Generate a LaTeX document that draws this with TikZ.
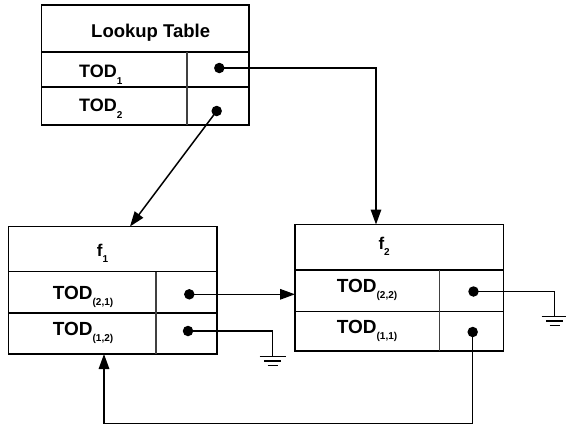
\documentclass[tikz,border=0pt]{standalone}
\usepackage{fontspec}
\setmainfont{Liberation Sans}[BoldFont={Liberation Sans Bold}]
\usetikzlibrary{arrows.meta}
\newcommand{\sbs}[1]{\raisebox{-6.5pt}{\fontsize{10}{10}\selectfont\bfseries #1}}
\begin{document}
\begin{tikzpicture}[x=1pt,y=-1pt,
 box/.style={draw, line width=1.8pt, rectangle, inner sep=0pt, outer sep=0pt},
 div/.style={line width=1.5pt},
 vdiv/.style={line width=1.2pt, black!75},
 dot/.style={circle, fill, inner sep=0pt, outer sep=0pt, minimum size=10.5pt},
 wire/.style={line width=1.5pt},
 arr/.style={wire, -{Triangle[length=15pt,width=10.5pt]}},
 gnd/.style={line width=1.5pt},
 txt/.style={anchor=base west, inner sep=0pt, font=\bfseries\fontsize{19}{19}\selectfont},
 ltxt/.style={txt, font=\bfseries\fontsize{18}{18}\selectfont},
 ftxt/.style={txt, font=\bfseries\fontsize{17}{17}\selectfont},
 ground/.pic={\draw[gnd] (-13,0)--(13,0) (-8.5,4.3)--(8.5,4.3) (-5,8.6)--(5,8.6);}
]
\useasboundingbox (0,0) rectangle (566,426);

% Lookup table
\node[box, minimum width=207.5pt, minimum height=120pt] (lt) at (145.25,65) {};
\draw[div] (41.5,52) -- (249,52);
\draw[div] (41.5,87) -- (249,87);
\draw[vdiv] (187,52) -- (187,125);
\node[ltxt, font=\bfseries\fontsize{18.5}{18.5}\selectfont] (ltt) at (91,37.7) {Lookup Table};
\node[ltxt] (lt1) at (79,77.7) {TOD\sbs{1}};
\node[ltxt] (lt2) at (79,111.7) {TOD\sbs{2}};
\node[dot] (ltd1) at (219.3,68) {};
\node[dot] (ltd2) at (216.7,111) {};

% f1
\node[box, minimum width=208.5pt, minimum height=127.5pt] (fa) at (112.75,290.25) {};
\draw[div] (8.5,271.5) -- (217,271.5);
\draw[div] (8.5,313) -- (217,313);
\draw[vdiv] (156,271.5) -- (156,354);
\node[ftxt] (fat) at (96.7,256) {f\sbs{1}};
\node[txt] (fa1) at (52.7,299) {TOD\sbs{(2,1)}};
\node[txt] (fa2) at (52.7,335) {TOD\sbs{(1,2)}};
\node[dot] (fad1) at (189.3,294.3) {};
\node[dot] (fad2) at (188,331) {};

% f2
\node[box, minimum width=208.5pt, minimum height=126.5pt] (fb) at (399.25,287.75) {};
\draw[div] (295,270) -- (503.5,270);
\draw[div] (295,311.7) -- (503.5,311.7);
\draw[vdiv] (439.5,270) -- (439.5,351);
\node[ftxt] (fbt) at (378.3,249.3) {f\sbs{2}};
\node[txt] (fb1) at (336.7,292) {TOD\sbs{(2,2)}};
\node[txt] (fb2) at (336.7,333) {TOD\sbs{(1,1)}};
\node[dot] (fbd1) at (473.5,291.5) {};
\node[dot] (fbd2) at (472.7,332) {};

% connector end points
\coordinate (fbin) at (376,224.5);
\coordinate (fain) at (130,226.5);
\coordinate (fbinl) at (295,294.3);
\coordinate (g1) at (272.5,356.7);
\coordinate (g2) at (554.5,316.7);
\coordinate (loop) at (104,423.3);
\coordinate (fainb) at (104,354);

% connectors
\draw[arr] (ltd1.center) -| (fbin);
\draw[arr] (ltd2.center) -- (fain);
\draw[arr] (fad1.center) -- (fbinl);
\draw[wire] (fad2.center) -| (g1);
\draw[wire] (fbd1.center) -| (g2);
\draw[arr] (fbd2.center) |- (loop) -- (fainb);
\pic at (g1) {ground};
\pic at (g2) {ground};
\end{tikzpicture}
\end{document}
